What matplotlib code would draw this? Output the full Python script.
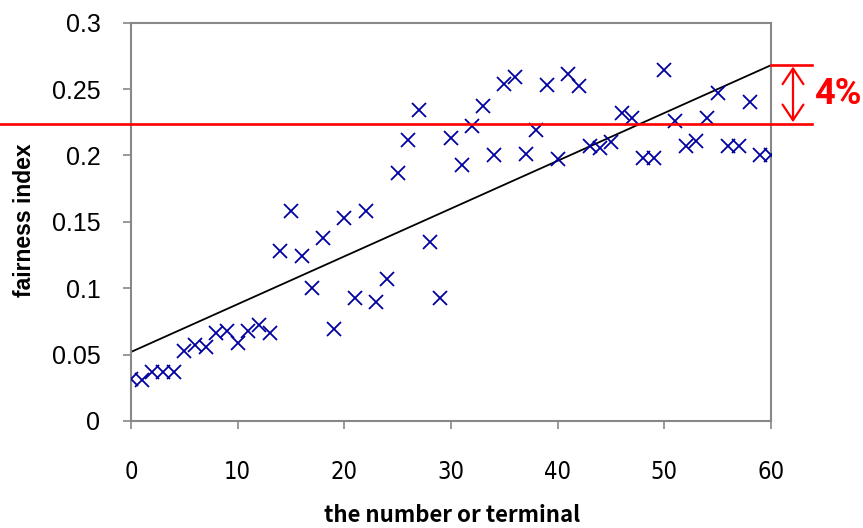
import matplotlib
matplotlib.use("Agg")
import matplotlib.pyplot as plt
import matplotlib.transforms as mtransforms
import numpy as np

terminals = list(range(0, 61))
fairness = [0.032, 0.031, 0.037, 0.037, 0.037, 0.053, 0.057, 0.056, 0.066, 0.068,
            0.059, 0.068, 0.072, 0.066, 0.128, 0.158, 0.124, 0.100, 0.138, 0.069,
            0.153, 0.093, 0.158, 0.090, 0.107, 0.187, 0.212, 0.234, 0.135, 0.093,
            0.213, 0.193, 0.222, 0.237, 0.200, 0.254, 0.259, 0.201, 0.219, 0.253,
            0.197, 0.261, 0.252, 0.207, 0.206, 0.210, 0.232, 0.228, 0.198, 0.198,
            0.264, 0.226, 0.207, 0.211, 0.228, 0.247, 0.207, 0.207, 0.240, 0.200,
            0.200]
trend_x = [0, 60]
trend_y = [0.052, 0.268]
ref_level = 0.224
gap_label = "4%"
x_ticks = [0, 10, 20, 30, 40, 50, 60]
y_ticks = [0, 0.05, 0.1, 0.15, 0.2, 0.25, 0.3]
y_ticklabels = ["0", "0.05", "0.1", "0.15", "0.2", "0.25", "0.3"]

W, H = 863, 528
fig = plt.figure(figsize=(W / 100, H / 100), dpi=100)
ax = fig.add_axes([131 / W, 1 - 421 / H, (771 - 131) / W, (421 - 22.7) / H])

ax.plot(terminals, fairness, linestyle="none", marker="x", markersize=10.5,
        markeredgewidth=1.3, color="#0000A0", zorder=3)
ax.plot(trend_x, trend_y, color="black", linewidth=1.3, zorder=2)

ax.set_xlim(0, 60)
ax.set_ylim(0, 0.3)
ax.set_xticks(x_ticks)
ax.set_yticks(y_ticks)
ax.set_yticklabels(y_ticklabels)

for s in ax.spines.values():
    s.set_color("#888888")
    s.set_linewidth(1.5)
ax.tick_params(axis="both", direction="out", length=6, width=1.2, color="#888888")
ax.tick_params(axis="y", pad=16)
ax.tick_params(axis="x", pad=22)

for lab in ax.get_yticklabels():
    lab.set_fontfamily(["Liberation Sans", "DejaVu Sans"])
    lab.set_fontsize(18)
for lab in ax.get_xticklabels():
    lab.set_fontfamily(["DejaVu Sans"])
    lab.set_fontstretch("condensed")
    lab.set_fontsize(17)

ax.set_xlabel("the number or terminal", fontsize=16, fontweight="bold",
              family=["Noto Sans CJK JP", "DejaVu Sans"])
ax.set_ylabel("fairness index", fontsize=16.5, fontweight="bold",
              family=["Liberation Sans", "DejaVu Sans"])
ax.xaxis.label.set_va("center")
ax.yaxis.label.set_va("center")
ax.xaxis.set_label_coords((452 - 131) / (771 - 131), -(515 - 421) / (421 - 22.7))
ax.yaxis.set_label_coords(-(131 - 25) / (771 - 131), (421 - 220) / (421 - 22.7))

# red reference line spanning beyond the axes
blend = mtransforms.blended_transform_factory(fig.transFigure, ax.transData)
ax.plot([0, 812 / W], [ref_level, ref_level], transform=blend, color="red",
        linewidth=1.9, clip_on=False, zorder=4)
ax.plot([771 / W, 812 / W], [trend_y[-1], trend_y[-1]], transform=blend,
        color="red", linewidth=1.9, clip_on=False, zorder=4)
ax.annotate("", xy=(793 / W, trend_y[-1]), xytext=(793 / W, ref_level),
            xycoords=blend, textcoords=blend,
            arrowprops=dict(arrowstyle="<->,head_length=0.45,head_width=0.3",
                            color="red", lw=1.6,
                            mutation_scale=25, shrinkA=1, shrinkB=1),
            annotation_clip=False)
ax.text(838 / W, (trend_y[-1] + ref_level) / 2, gap_label, transform=blend,
        color="red", fontsize=26, fontweight="bold",
        family=["Roboto", "DejaVu Sans"],
        ha="center", va="center", clip_on=False)

fig.savefig("out.png", dpi=100)
